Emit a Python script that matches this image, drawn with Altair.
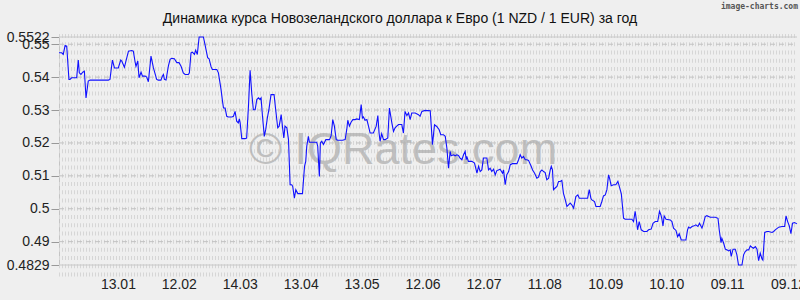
import altair as alt
import pandas as pd

TITLE = "Динамика курса Новозеландского доллара к Евро (1 NZD / 1 EUR) за год"
BRAND = "image-charts.com"
WATERMARK = "© IQRates.com"
START = "2024-12-15"

day_offsets = [
    0, 1.3, 2.1, 3.0, 3.8, 4.9, 5.4, 6.2, 7.9, 8.7, 9.5, 10.0, 10.8, 11.7, 12.5, 13.3,
    14.4, 15.3, 24.3, 25.1, 26.3, 27.3, 29.2, 30.4, 30.9, 32.2, 34.2, 35.8, 36.6, 37.4,
    37.9, 38.8, 39.4, 40.4, 41.1, 42.4, 43.2, 44.0, 45.3, 46.5, 48.1, 48.9, 50.2, 50.9,
    51.4, 51.9, 52.7, 53.9, 54.7, 55.5, 56.8, 58.0, 59.1, 60.1, 61.2, 62.1, 63.7, 64.2,
    65.0, 65.7, 66.7, 67.3, 68.1, 69.0, 70.3, 71.1, 71.9, 73.2, 73.9, 74.9, 75.5, 77.7,
    78.5, 79.8, 80.5, 81.0, 81.8, 82.6, 83.4, 85.1, 85.9, 86.7, 87.5, 88.3, 88.8, 89.2,
    90.0, 91.6, 92.4, 93.3, 94.1, 94.9, 95.7, 96.6, 97.4, 98.2, 99.0, 99.5, 100.2, 101.1,
    101.8, 102.6, 103.4, 104.4, 105.9, 106.7, 107.7, 108.4, 109.4, 110.2, 110.7, 111.3,
    112.2, 113.0, 113.8, 114.6, 115.1, 115.9, 116.6, 117.6, 118.7, 119.9, 120.9, 121.5,
    122.0, 122.8, 123.3, 124.5, 125.8, 126.9, 127.4, 128.2, 128.7, 129.4, 130.2, 131.4,
    132.3, 133.2, 134.0, 134.8, 135.6, 136.5, 137.3, 138.4, 139.6, 140.9, 141.7, 142.2,
    143.0, 143.8, 144.7, 145.8, 146.6, 147.9, 148.8, 149.4, 149.9, 150.7, 151.6, 152.4,
    153.2, 154.8, 156.2, 157.0, 157.6, 158.1, 158.9, 159.8, 160.6, 161.9, 162.7, 163.9,
    164.7, 165.5, 166.3, 167.2, 168.8, 169.6, 170.4, 171.3, 172.1, 172.9, 173.7, 175.4,
    177.0, 177.8, 178.7, 180.3,
    182.8, 183.9, 184.9, 186.0, 187.2, 188.0, 189.3, 190.2, 191.0, 191.8, 192.6, 193.1,
    194.3, 195.1, 195.9, 196.7, 197.5, 198.4, 199.2, 200.0, 200.5, 200.8, 201.6, 203.3,
    204.6, 205.8, 206.6, 207.4, 208.2, 209.0, 210.7, 211.5, 212.3, 213.1, 214.0, 214.8,
    215.6, 216.4, 217.2, 218.4, 218.9, 219.7, 220.5, 221.4, 222.2, 223.3, 224.6, 225.5,
    226.3, 227.1, 227.9, 228.7, 229.6, 230.4, 231.2, 232.5, 233.2, 234.2, 235.3, 236.1,
    237.0, 237.8, 238.6, 239.4, 240.2, 241.1, 241.9, 242.4, 243.0, 243.5, 244.3, 245.2,
    246.0, 246.8, 247.6, 248.4, 249.3, 250.1, 250.9, 251.7, 252.5, 253.4, 254.5, 255.5,
    256.2, 257.5, 259.1, 260.3, 261.1, 261.9, 262.4, 263.7, 264.4, 265.4, 266.5, 267.3,
    268.1, 269.0, 269.8, 270.6, 271.1, 271.9, 273.1, 274.2, 275.2, 275.9, 276.9, 277.5,
    278.0, 278.8, 280.5, 282.1, 282.9, 283.7, 284.2, 284.9, 285.7, 286.7, 287.9, 288.7,
    289.5, 290.3, 291.6, 292.5, 293.6, 294.8, 295.7, 296.4, 296.9, 297.4, 298.0, 298.9,
    301.0, 301.8, 302.6, 303.8, 304.6, 305.4, 306.4, 307.6, 308.7, 309.5, 310.0, 310.8,
    311.7, 312.8, 313.6, 314.6, 315.4, 316.6, 317.4, 318.2, 319.0, 320.7, 323.2, 324.5,
    325.1, 326.0, 326.4, 327.3, 328.1, 328.9, 329.7, 330.5, 331.0, 331.9, 333.0, 333.8,
    334.6, 335.5, 336.3, 337.1, 337.9, 338.8, 339.6, 340.4, 341.2, 342.0, 342.9, 343.7,
    344.5, 345.3, 346.1, 346.6, 347.5, 348.6, 349.4, 351.1, 351.9, 352.7, 354.4, 356.0,
    357.3, 358.0, 358.8, 359.6, 360.4, 361.2, 362.2, 363.4,
]

rates = [
    0.5474, 0.5474, 0.5469, 0.5496, 0.5494, 0.5393, 0.5393, 0.5398, 0.5398, 0.5398, 0.5452, 0.5413, 0.5408, 0.5415, 0.5418, 0.5337,
    0.5388, 0.5391, 0.5391, 0.5393, 0.5452, 0.5428, 0.5428, 0.5452, 0.5449, 0.5430, 0.5479, 0.5481, 0.5479, 0.5449,
    0.5433, 0.5449, 0.5398, 0.5415, 0.5403, 0.5403, 0.5400, 0.5386, 0.5464, 0.5428, 0.5393, 0.5391, 0.5391, 0.5403,
    0.5408, 0.5393, 0.5391, 0.5435, 0.5454, 0.5457, 0.5456, 0.5444, 0.5444, 0.5433, 0.5413, 0.5408, 0.5408, 0.5413,
    0.5474, 0.5476, 0.5469, 0.5482, 0.5469, 0.5522, 0.5522, 0.5522, 0.5499, 0.5459, 0.5456, 0.5431, 0.5423, 0.5423,
    0.5413, 0.5362, 0.5327, 0.5306, 0.5306, 0.5281, 0.5279, 0.5279, 0.5281, 0.5296, 0.5266, 0.5261, 0.5273, 0.5261,
    0.5213, 0.5213, 0.5215, 0.5312, 0.5421, 0.5352, 0.5301, 0.5301, 0.5332, 0.5337, 0.5332, 0.5337, 0.5281, 0.5220,
    0.5241, 0.5276, 0.5303, 0.5347, 0.5347, 0.5301, 0.5246, 0.5251, 0.5286, 0.5241, 0.5215, 0.5251,
    0.5246, 0.5210, 0.5073, 0.5073, 0.5068, 0.5032, 0.5058, 0.5046, 0.5046, 0.5046, 0.5129, 0.5144,
    0.5190, 0.5220, 0.5202, 0.5202, 0.5202, 0.5202, 0.5190, 0.5098, 0.5200, 0.5205, 0.5195, 0.5210,
    0.5210, 0.5210, 0.5222, 0.5271, 0.5251, 0.5210, 0.5208, 0.5208, 0.5208, 0.5210, 0.5241, 0.5269,
    0.5251, 0.5263, 0.5271, 0.5271, 0.5273, 0.5271, 0.5317, 0.5276, 0.5279, 0.5269, 0.5271, 0.5251,
    0.5230, 0.5230, 0.5251, 0.5283, 0.5230, 0.5205, 0.5228, 0.5210, 0.5210, 0.5215, 0.5306, 0.5261,
    0.5235, 0.5246, 0.5251, 0.5256, 0.5256, 0.5230, 0.5296, 0.5283, 0.5291, 0.5271, 0.5291, 0.5291,
    0.5286, 0.5281, 0.5296, 0.5299,
    0.5298, 0.5195, 0.5255, 0.5250, 0.5240, 0.5225, 0.5225, 0.5220, 0.5184, 0.5123, 0.5174, 0.5161,
    0.5164, 0.5161, 0.5164, 0.5162, 0.5154, 0.5149, 0.5164, 0.5174, 0.5149, 0.5159, 0.5144, 0.5144,
    0.5139, 0.5108, 0.5129, 0.5113, 0.5118, 0.5154, 0.5154, 0.5118, 0.5123, 0.5113, 0.5120, 0.5103,
    0.5116, 0.5118, 0.5120, 0.5108, 0.5118, 0.5073, 0.5103, 0.5113, 0.5134, 0.5137, 0.5137, 0.5137,
    0.5149, 0.5164, 0.5154, 0.5159, 0.5149, 0.5149, 0.5147, 0.5129, 0.5118, 0.5108, 0.5093, 0.5096,
    0.5113, 0.5118, 0.5113, 0.5110, 0.5088, 0.5093, 0.5118, 0.5129, 0.5118, 0.5058, 0.5063, 0.5068,
    0.5083, 0.5083, 0.5086, 0.5047, 0.5027, 0.5007, 0.5012, 0.5017, 0.5012, 0.5002, 0.5037, 0.5042,
    0.5032, 0.5032, 0.5032, 0.5032, 0.5058, 0.5032, 0.5027, 0.5022, 0.5007, 0.5007, 0.5007, 0.5022,
    0.5039, 0.5042, 0.5058, 0.5103, 0.5093, 0.5070, 0.5073, 0.5073, 0.5083, 0.5068, 0.5045, 0.5005,
    0.4971, 0.4968, 0.4968, 0.4968, 0.4961, 0.4992, 0.4971, 0.4936, 0.4961, 0.4936, 0.4931, 0.4931,
    0.4931, 0.4936, 0.4938, 0.4956, 0.4961, 0.4961, 0.4992, 0.4981, 0.4968, 0.4948, 0.4978, 0.4968,
    0.4966, 0.4961, 0.4941, 0.4934, 0.4915, 0.4924, 0.4905, 0.4905, 0.4905, 0.4936, 0.4944, 0.4941,
    0.4946, 0.4948, 0.4951, 0.4946, 0.4956, 0.4941, 0.4956, 0.4976, 0.4979, 0.4974, 0.4974, 0.4971,
    0.4936, 0.4897, 0.4910, 0.4895, 0.4877, 0.4875, 0.4872, 0.4875, 0.4855, 0.4877, 0.4877, 0.4860,
    0.4829, 0.4829, 0.4829, 0.4860, 0.4870, 0.4875, 0.4875, 0.4887, 0.4883, 0.4880, 0.4885, 0.4877,
    0.4842, 0.4865, 0.4849, 0.4844, 0.4928, 0.4931, 0.4931, 0.4928, 0.4931, 0.4936, 0.4944, 0.4946,
    0.4946, 0.4978, 0.4961, 0.4948, 0.4924, 0.4956, 0.4958, 0.4954,
]

y_ticks = [0.4829, 0.49, 0.5, 0.51, 0.52, 0.53, 0.54, 0.55, 0.5522]
x_tick_dates = ["2025-01-13", "2025-02-12", "2025-03-14", "2025-04-13", "2025-05-13",
                "2025-06-12", "2025-07-12", "2025-08-11", "2025-09-10", "2025-10-10",
                "2025-11-09", "2025-12-09"]

W, H = 738, 228
FONT = "Liberation Sans, Arial, sans-serif"

df = pd.DataFrame({
    "date": pd.Timestamp(START) + pd.to_timedelta(day_offsets, unit="D"),
    "rate": rates,
    "idx": list(range(len(rates))),
})

# background texture rows (every 0.0025)
pattern_rows = [round(0.48 + 0.0025 * i, 4) for i in range(30)]
pat_df = pd.DataFrame({"rate": pattern_rows})
grid_df = pd.DataFrame({"rate": [v for v in y_ticks if v not in (y_ticks[0], y_ticks[-1])]})
edge_df = pd.DataFrame({"rate": [y_ticks[0], y_ticks[-1]]})

yscale = alt.Scale(domain=[y_ticks[0], y_ticks[-1]], nice=False, zero=False)
yaxis = alt.Axis(values=y_ticks, labelExpr="'' + datum.value", title=None, grid=False,
                 labelFontSize=14, labelFont=FONT, labelColor="#222222",
                 labelOverlap=False, labelFlush=False, labelPadding=2,
                 tickSize=8, tickColor="#999999", domainColor="#c4c4c4")


def Y():
    return alt.Y("rate:Q", scale=yscale, axis=yaxis)


xvals = []
for s in x_tick_dates:
    t = pd.Timestamp(s)
    xvals.append(alt.DateTime(year=t.year, month=t.month, date=t.day))

xaxis = alt.Axis(values=xvals, format="%d.%m", title=None, grid=False, ticks=False,
                 domain=False, labelFontSize=14, labelFont=FONT, labelColor="#222222",
                 labelPadding=12, labelFlush=False, labelOverlap=False)

pattern = alt.Chart(pat_df).mark_rule(color="#d6d6d6", strokeWidth=4, strokeDash=[1, 2]).encode(
    y=Y(), x=alt.value(0), x2=alt.value(W))
grid = alt.Chart(grid_df).mark_rule(color="#c2c2c2", strokeWidth=1, strokeDash=[5, 4]).encode(
    y=Y(), x=alt.value(0), x2=alt.value(W))
edges = alt.Chart(edge_df).mark_rule(color="#c8c8c8", strokeWidth=1).encode(
    y=Y(), x=alt.value(0), x2=alt.value(W))

wm = alt.Chart(pd.DataFrame({"t": [WATERMARK]})).mark_text(
    font=FONT, fontSize=45, color="#b0b0b0", opacity=0.75, align="center", baseline="middle"
).encode(text="t:N", x=alt.value(344), y=alt.value(113))

line = alt.Chart(df).mark_line(color="#1010ff", strokeWidth=1.1).encode(
    x=alt.X("date:T", scale=alt.Scale(nice=False), axis=xaxis),
    y=Y(),
    order="idx:Q",
)

title = alt.Chart(pd.DataFrame({"t": [TITLE]})).mark_text(
    font=FONT, fontSize=14, color="#111111", align="center", baseline="middle"
).encode(text="t:N", x=alt.value(400 - 59), y=alt.value(-18))

brand = alt.Chart(pd.DataFrame({"t": [BRAND]})).mark_text(
    font="DejaVu Sans Mono", fontSize=8, fontWeight="bold", color="#555555",
    align="right", baseline="middle"
).encode(text="t:N", x=alt.value(739), y=alt.value(-30))

chart = alt.layer(pattern, grid, edges, wm, line, title, brand).properties(
    width=W, height=H, background="#efefef", autosize="none",
    padding={"left": 59, "top": 37, "right": 3, "bottom": 35},
).configure_view(stroke=None)

chart.save("out.html", embed_options={"renderer": "svg", "actions": False})
